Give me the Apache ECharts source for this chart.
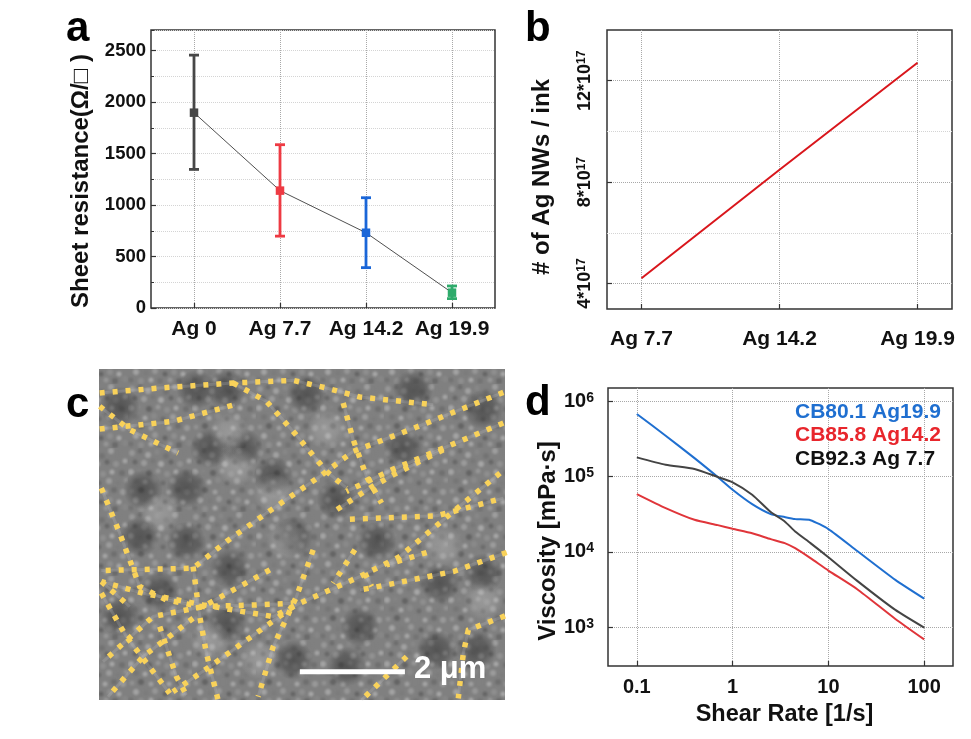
<!DOCTYPE html>
<html>
<head>
<meta charset="utf-8">
<style>html,body{margin:0;padding:0;background:#fff}#c{width:971px;height:739px}</style>
<script src="https://cdn.jsdelivr.net/npm/echarts@6/dist/echarts.min.js"></script>
</head>
<body>
<div id="c"></div>
<script>
// Panel a
const aCategories = ['Ag 0', 'Ag 7.7', 'Ag 14.2', 'Ag 19.9'];
const aValues = [1897, 1140, 731, 149];
const aErrLow = [1346, 698, 392, 91];
const aErrHigh = [2456, 1586, 1071, 214];
const aColors = ['#474747', '#ee3a43', '#1a66d8', '#2eab6b'];
// Panel b (units of 10^17)
const bCategories = ['Ag 7.7', 'Ag 14.2', 'Ag 19.9'];
const bValues = [4.21, 8.49, 12.71];
// Panel d
const dRates = [0.1, 0.2, 0.4, 0.7, 1, 1.6, 2.5, 3.5, 4.5, 6.5, 10, 20, 50, 100];
const dBlue = [678000, 349000, 176000, 98600, 66900, 43100, 31800, 29000, 27300, 26400, 20100, 10300, 4260, 2400];
const dBlack = [180000, 144000, 126000, 98600, 83700, 57400, 33800, 25400, 18700, 13100, 8510, 4130, 1700, 990];
const dRed = [58600, 38200, 26700, 22700, 20300, 17700, 14800, 13100, 11200, 8260, 5660, 3200, 1290, 690];
const dNames = ['CB80.1 Ag19.9', 'CB85.8 Ag14.2', 'CB92.3 Ag 7.7'];
// Panel c: silver nanowire traces (x, y in image units)
const wires = [
  [[120,100],[300,85],[520,70],[700,62],[800,85],[900,112],[1120,135]],
  [[120,208],[340,185],[525,135]],
  [[120,140],[210,210],[355,280]],
  [[520,70],[620,125],[700,215],[800,335],[860,385]],
  [[850,130],[880,240],[920,350],[965,430]],
  [[1330,98],[1050,210],[880,275],[780,350],[620,460],[500,545],[400,625],[125,632]],
  [[1330,190],[1000,328],[860,395]],
  [[1150,270],[1000,345],[930,385],[830,450]],
  [[870,478],[1130,468],[1180,455],[1330,415]],
  [[1320,340],[1180,455],[1020,590],[900,650],[720,730],[640,770],[430,735],[250,700],[125,665]],
  [[1340,578],[1180,635],[940,683],[900,690]],
  [[1100,578],[980,615]],
  [[885,570],[820,670]],
  [[760,570],[710,710],[640,860],[595,1010]],
  [[125,385],[180,520],[240,680],[320,720],[420,740]],
  [[630,630],[430,740],[280,770],[130,905]],
  [[400,620],[420,770],[440,880],[475,1020]],
  [[125,700],[200,830],[330,1000]],
  [[125,665],[210,740]],
  [[700,740],[450,920],[340,995]],
  [[420,740],[590,735],[700,730]],
  [[400,775],[250,890],[145,1010]],
  [[300,800],[350,950],[380,1005]],
  [[1335,768],[1225,810],[1210,880],[1195,1015]],
  [[1040,890],[905,1020]],
  [[915,640],[935,680]]
];
const darkPatches = [[180,140],[410,90],[500,90],[550,265],[740,105],[1060,90],[1270,150],[380,545],[510,625],[300,695],[180,770],[900,800],[1130,870],[1250,870],[1030,265],[700,530],[950,545],[860,920],[1270,640],[1140,670],[250,390],[640,350],[450,265],[380,385],[240,530],[830,420],[500,790],[700,900]];
const lightPatches = [[530,320],[640,400],[680,540],[300,460],[800,210],[510,220],[1150,560],[1270,720],[600,900],[450,840]];
const scaleBar = [[720,935],[1035,935]];
// Grain of the micrograph background: x, y, radius, grey level within a repeating tile
const grains = [[4,5,3,158],[12,3,2.5,104],[20,7,3,170],[29,4,2.5,138],[38,8,3,112],[47,3,3,166],[56,7,2.5,128],[7,14,2.5,98],[16,15,3,162],[25,13,2.5,118],[33,16,3,176],[43,14,2.5,96],[52,16,3,150],[61,13,2.5,174],[3,24,3,172],[11,23,2.5,132],[21,25,3,92],[30,23,2.5,158],[39,26,3,146],[48,24,2.5,178],[58,25,3,108],[8,33,3,116],[17,34,2.5,176],[26,32,3,140],[35,35,2.5,102],[45,33,3,164],[54,35,2.5,124],[62,32,2.5,150],[4,43,2.5,150],[13,42,3,92],[23,44,2.5,168],[31,42,3,130],[41,44,2.5,174],[50,42,3,106],[59,44,3,160],[8,52,3,172],[18,53,2.5,122],[27,51,3,158],[37,54,2.5,94],[46,52,3,146],[55,54,2.5,178],[3,60,2.5,110],[13,61,3,146],[23,60,2.5,176],[32,61,3,114],[42,60,2.5,156],[51,61,3,100],[61,59,3,136]];

const FF = '"Liberation Sans", Arial, sans-serif';
const INK = '#111';
const GRID = '#a8a8a8';
const GRID2 = '#d4d4d4';
const BORDER = '#333';

function grainTile() {
  const cv = document.createElement('canvas');
  cv.width = cv.height = 64;
  const g = cv.getContext('2d');
  g.fillStyle = '#808080';
  g.fillRect(0, 0, 64, 64);
  g.filter = 'blur(0.8px)';
  g.globalAlpha = 0.8;
  grains.forEach(function (p) {
    g.fillStyle = 'rgb(' + p[3] + ',' + p[3] + ',' + p[3] + ')';
    g.beginPath();
    g.arc(p[0], p[1], p[2], 0, Math.PI * 2);
    g.fill();
  });
  return { image: cv, repeat: 'repeat' };
}
function softBlob(rgb, alpha) {
  return { type: 'radial', x: 0.5, y: 0.5, r: 0.5, colorStops: [
    { offset: 0, color: 'rgba(' + rgb + ',' + alpha + ')' },
    { offset: 0.55, color: 'rgba(' + rgb + ',' + alpha * 0.7 + ')' },
    { offset: 1, color: 'rgba(' + rgb + ',0)' }
  ] };
}

const sup = { sup: { fontSize: 12, fontWeight: 'bold', fontFamily: FF, color: INK, padding: [0, 0, 6, 0] } };
function axisBase(extra) {
  return Object.assign({
    axisLine: { show: false, onZero: false },
    axisTick: { show: true, inside: true, length: 5, lineStyle: { color: BORDER, width: 1.2 } },
    splitLine: { show: true, lineStyle: { color: GRID, type: 'dotted', width: 1 } },
    nameTextStyle: { fontFamily: FF, fontWeight: 'bold', fontSize: 24, color: INK }
  }, extra);
}
function lbl(size, margin, extra) {
  return Object.assign({ fontFamily: FF, fontWeight: 'bold', fontSize: size, color: INK, margin: margin, hideOverlap: false }, extra || {});
}

const wireSeries = [];
wires.forEach(function (w) {
  wireSeries.push({ type: 'line', xAxisIndex: 2, yAxisIndex: 3, data: w, showSymbol: false, silent: true, z: 3,
    lineStyle: { color: 'rgba(205,205,205,0.2)', width: 3 } });
  wireSeries.push({ type: 'line', xAxisIndex: 2, yAxisIndex: 3, data: w, showSymbol: false, silent: true, z: 4,
    lineStyle: { color: '#f9d25a', width: 5.5, type: [5, 8], cap: 'butt', join: 'miter' } });
});

const option = {
  animation: false,
  backgroundColor: '#fff',
  grid: [
    { left: 151, top: 30, width: 344, height: 278, show: true, borderColor: BORDER, borderWidth: 1.5, backgroundColor: 'transparent' },
    { left: 607, top: 30, width: 345, height: 279, show: true, borderColor: BORDER, borderWidth: 1.5, backgroundColor: 'transparent' },
    { left: 99, top: 369, width: 406, height: 331, show: true, borderWidth: 0, backgroundColor: grainTile() },
    { left: 608, top: 388, width: 345, height: 278, show: true, borderColor: BORDER, borderWidth: 1.5, backgroundColor: 'transparent' }
  ],
  xAxis: [
    axisBase({ gridIndex: 0, type: 'category', data: aCategories,
      axisTick: { show: true, inside: true, alignWithLabel: true, length: 5, lineStyle: { color: BORDER, width: 1.2 } },
      splitLine: { show: true, alignWithLabel: true, lineStyle: { color: GRID, type: 'dotted', width: 1 } },
      axisLabel: lbl(21, 11, { interval: 0 }) }),
    axisBase({ gridIndex: 1, type: 'value', min: -0.25, max: 2.25,
      axisTick: { show: true, inside: true, length: 5, customValues: [0, 1, 2], lineStyle: { color: BORDER, width: 1.2 } },
      axisLabel: lbl(21, 20, { customValues: [0, 1, 2], formatter: function (v) { return bCategories[v]; } }) }),
    { gridIndex: 2, type: 'value', min: 118, max: 1335, show: false },
    axisBase({ gridIndex: 3, type: 'log', logBase: 10, min: 0.05, max: 200,
      name: 'Shear Rate [1/s]', nameLocation: 'middle', nameGap: 37,
      nameTextStyle: { fontFamily: FF, fontWeight: 'bold', fontSize: 23.5, color: INK, padding: [0, 0, 0, 8] },
      minorTick: { show: false },
      axisTick: { show: true, inside: true, length: 5, customValues: [0.1, 1, 10, 100], lineStyle: { color: BORDER, width: 1.2 } },
      axisLabel: lbl(20, 11, { customValues: [0.1, 1, 10, 100], formatter: function (v) { return String(v); } }) })
  ],
  yAxis: [
    axisBase({ gridIndex: 0, type: 'value', min: 0, max: 2700, interval: 500,
      name: 'Sheet resistance(Ω/□ )', nameLocation: 'middle', nameGap: 58,
      nameTextStyle: { fontFamily: FF, fontWeight: 'bold', fontSize: 24, color: INK, padding: [0, 24, 0, 0] },
      axisLabel: lbl(18.5, 5, { showMaxLabel: false, formatter: function (v) { return String(v); } }) }),
    axisBase({ gridIndex: 0, type: 'value', position: 'left', min: 0, max: 2700, interval: 250,
      axisLabel: { show: false },
      axisTick: { show: true, inside: true, length: 3, lineStyle: { color: BORDER, width: 1 } },
      splitLine: { show: true, lineStyle: { color: GRID2, type: 'dotted', width: 1 } } }),
    axisBase({ gridIndex: 1, type: 'value', min: 3, max: 14,
      name: '# of Ag NWs / ink', nameLocation: 'middle', nameGap: 53,
      nameTextStyle: { fontFamily: FF, fontWeight: 'bold', fontSize: 24, color: INK, padding: [0, 15, 0, 0] },
      axisTick: { show: true, inside: true, length: 5, customValues: [4, 8, 12], lineStyle: { color: BORDER, width: 1.2 } },
      axisLabel: lbl(18, 13, { rotate: 90, customValues: [4, 8, 12], rich: sup,
        formatter: function (v) { return v + '*10{sup|17}'; } }) }),
    { gridIndex: 2, type: 'value', min: 28, max: 1020, inverse: true, show: false },
    axisBase({ gridIndex: 3, type: 'log', logBase: 10, min: 306, max: 1500000,
      name: 'Viscosity [mPa·s]', nameLocation: 'middle', nameGap: 45,
      nameTextStyle: { fontFamily: FF, fontWeight: 'bold', fontSize: 24, color: INK, padding: [0, 28, 0, 0] },
      minorTick: { show: false },
      axisTick: { show: true, inside: true, length: 5, customValues: [1000, 10000, 100000, 1000000], lineStyle: { color: BORDER, width: 1.2 } },
      axisLabel: lbl(20, 14, { customValues: [1000, 10000, 100000, 1000000], rich: { sup: { fontSize: 14, fontWeight: 'bold', fontFamily: FF, color: INK, padding: [0, 0, 7, 0] } },
        formatter: function (v) { return '10{sup|' + Math.round(Math.log10(v)) + '}'; } }) }),
    axisBase({ gridIndex: 1, type: 'value', min: 3, max: 14, position: 'left',
      axisLabel: { show: false },
      axisTick: { show: false, customValues: [6, 10] },
      splitLine: { show: true, lineStyle: { color: GRID2, type: 'dotted', width: 1 } } })
  ],
  legend: {
    left: 795, top: 400, orient: 'vertical', itemWidth: 0, itemHeight: 0, itemGap: 0, selectedMode: false, padding: 0,
    icon: 'rect',
    data: [
      { name: dNames[0], textStyle: { color: '#1f6fd0' } },
      { name: dNames[1], textStyle: { color: '#e8262c' } },
      { name: dNames[2], textStyle: { color: '#111' } }
    ],
    textStyle: { fontFamily: FF, fontWeight: 'bold', fontSize: 21, padding: [0, 0, 0, -5], lineHeight: 23.5 }
  },
  series: [
    { type: 'line', xAxisIndex: 0, yAxisIndex: 0, data: aValues, z: 3, symbol: 'rect', symbolSize: 8.5,
      lineStyle: { color: '#222', width: 0.8 },
      itemStyle: { color: function (p) { return aColors[p.dataIndex]; } } },
    { type: 'custom', xAxisIndex: 0, yAxisIndex: 0, z: 2, silent: true,
      data: aCategories.map(function (c, i) { return [i, aErrLow[i], aErrHigh[i]]; }),
      renderItem: function (params, api) {
        const lo = api.coord([api.value(0), api.value(1)]);
        const hi = api.coord([api.value(0), api.value(2)]);
        const st = { stroke: aColors[params.dataIndex], lineWidth: 2.8, fill: 'none' };
        const cap = 5;
        return { type: 'group', children: [
          { type: 'line', shape: { x1: lo[0], y1: lo[1], x2: hi[0], y2: hi[1] }, style: st },
          { type: 'line', shape: { x1: lo[0] - cap, y1: lo[1], x2: lo[0] + cap, y2: lo[1] }, style: st },
          { type: 'line', shape: { x1: hi[0] - cap, y1: hi[1], x2: hi[0] + cap, y2: hi[1] }, style: st }
        ] };
      } },
    { type: 'line', xAxisIndex: 1, yAxisIndex: 2, data: bValues.map(function (v, i) { return [i, v]; }), showSymbol: false,
      lineStyle: { color: '#d9161c', width: 2 } },
    { type: 'line', name: dNames[0], xAxisIndex: 3, yAxisIndex: 4, data: dRates.map(function (x, i) { return [x, dBlue[i]]; }), showSymbol: false, smooth: 0.2,
      itemStyle: { color: '#1f6fd0' }, lineStyle: { color: '#1f6fd0', width: 2 } },
    { type: 'line', name: dNames[1], xAxisIndex: 3, yAxisIndex: 4, data: dRates.map(function (x, i) { return [x, dRed[i]]; }), showSymbol: false, smooth: 0.2,
      itemStyle: { color: '#e0353a' }, lineStyle: { color: '#e0353a', width: 2 } },
    { type: 'line', name: dNames[2], xAxisIndex: 3, yAxisIndex: 4, data: dRates.map(function (x, i) { return [x, dBlack[i]]; }), showSymbol: false, smooth: 0.2,
      itemStyle: { color: '#444' }, lineStyle: { color: '#444', width: 2 } },
    { type: 'scatter', xAxisIndex: 2, yAxisIndex: 3, data: darkPatches, symbol: 'circle', symbolSize: 40, silent: true, z: 1, clip: true,
      itemStyle: { color: softBlob('35,35,35', 0.6) } },
    { type: 'scatter', xAxisIndex: 2, yAxisIndex: 3, data: lightPatches, symbol: 'circle', symbolSize: 40, silent: true, z: 1, clip: true,
      itemStyle: { color: softBlob('205,205,205', 0.4) } }
  ].concat(wireSeries).concat([
    { type: 'line', xAxisIndex: 2, yAxisIndex: 3, data: scaleBar, showSymbol: false, silent: true, z: 5,
      lineStyle: { color: '#fff', width: 5 } }
  ]),
  graphic: [
    { type: 'text', x: 66, y: 8, z: 10, style: { text: 'a', font: 'bold 42px ' + FF, fill: '#000' } },
    { type: 'text', x: 525, y: 8, z: 10, style: { text: 'b', font: 'bold 42px ' + FF, fill: '#000' } },
    { type: 'text', x: 66, y: 384, z: 10, style: { text: 'c', font: 'bold 42px ' + FF, fill: '#000' } },
    { type: 'text', x: 525, y: 382, z: 10, style: { text: 'd', font: 'bold 42px ' + FF, fill: '#000' } },
    { type: 'text', x: 414, y: 654, z: 10, style: { text: '2 μm', font: 'bold 31px ' + FF, fill: '#fff' } }
  ]
};
const chart = echarts.init(document.getElementById('c'), null, { renderer: 'canvas' });
chart.setOption(option);
</script>
</body>
</html>
